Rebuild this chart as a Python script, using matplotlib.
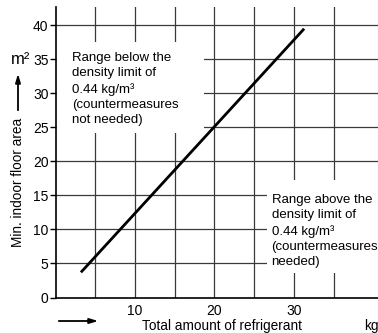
import matplotlib as mpl
mpl.use("Agg")
import matplotlib.pyplot as plt
from matplotlib.patches import Rectangle

plt.rcParams['font.family'] = ['Liberation Sans', 'DejaVu Sans']

# data
refrigerant_kg = [3.2, 31.3]
floor_area_m2 = [3.7, 39.5]
x_ticks = [10, 20, 30]
x_grid = [5, 10, 15, 20, 25, 30, 35]
y_ticks = [0, 5, 10, 15, 20, 25, 30, 35, 40]

W, H = 378, 333
fig = plt.figure(figsize=(W / 100, H / 100), dpi=100)


def fx(px):
    return px / W


def fy(py):
    return 1 - py / H


ax = fig.add_axes([fx(55.5), fy(297.5), 1 - fx(55.5), (297.5 - 7) / H])
ax.set_xlim(0, 40.6)
ax.set_ylim(0, 42.7)

gc = "#3a3a3a"
for xv in x_grid:
    ax.axvline(xv, color=gc, lw=0.9, zorder=1)
for yv in y_ticks[1:]:
    ax.axhline(yv, color=gc, lw=0.9, zorder=1)

# white panels behind the two notes
ax.add_patch(Rectangle((0, 24.2), 18.7, 13.4, facecolor="white",
                       edgecolor="none", zorder=1.5))
ax.add_patch(Rectangle((26.6, 3.6), 14.5, 13.7, facecolor="white",
                       edgecolor="none", zorder=1.5))

ax.plot(refrigerant_kg, floor_area_m2, color="black", lw=2.0,
        solid_capstyle="butt", zorder=3)

for s in ["top", "right"]:
    ax.spines[s].set_visible(False)
for s in ["left", "bottom"]:
    ax.spines[s].set_linewidth(1.2)
    ax.spines[s].set_zorder(4)

ax.set_xticks(x_ticks)
ax.set_yticks(y_ticks)
ax.tick_params(axis="x", length=0, pad=5, labelsize=10)
ax.tick_params(axis="y", length=4, width=1, direction="out", pad=1,
               labelsize=10)

ax.text(2.1, 36.1,
        "Range below the\ndensity limit of\n0.44 kg/m³\n(countermeasures\nnot needed)",
        fontsize=9.5, va="top", ha="left", linespacing=1.36, zorder=5)
ax.text(27.2, 15.2,
        "Range above the\ndensity limit of\n0.44 kg/m³\n(countermeasures\nneeded)",
        fontsize=9.5, va="top", ha="left", linespacing=1.36, zorder=5)

# axis labels with arrows
fig.text(fx(18), fy(182), "Min. indoor floor area", rotation=90,
         ha="center", va="center", fontsize=9.8)
fig.text(fx(21), fy(59), "m²", ha="center", va="center", fontsize=12)
fig.add_artist(mpl.patches.FancyArrowPatch(
    (fx(18), fy(113)), (fx(18), fy(71)), transform=fig.transFigure,
    arrowstyle="-|>,head_length=5,head_width=1.5", color="black", lw=1.3))

fig.text(fx(222), fy(326), "Total amount of refrigerant",
         ha="center", va="center", fontsize=9.8)
fig.text(fx(371), fy(326), "kg", ha="center", va="center", fontsize=9.8)
fig.add_artist(mpl.patches.FancyArrowPatch(
    (fx(56), fy(321)), (fx(101), fy(321)), transform=fig.transFigure,
    arrowstyle="-|>,head_length=5,head_width=1.5", color="black", lw=1.3))

fig.savefig("out.png", dpi=100)
